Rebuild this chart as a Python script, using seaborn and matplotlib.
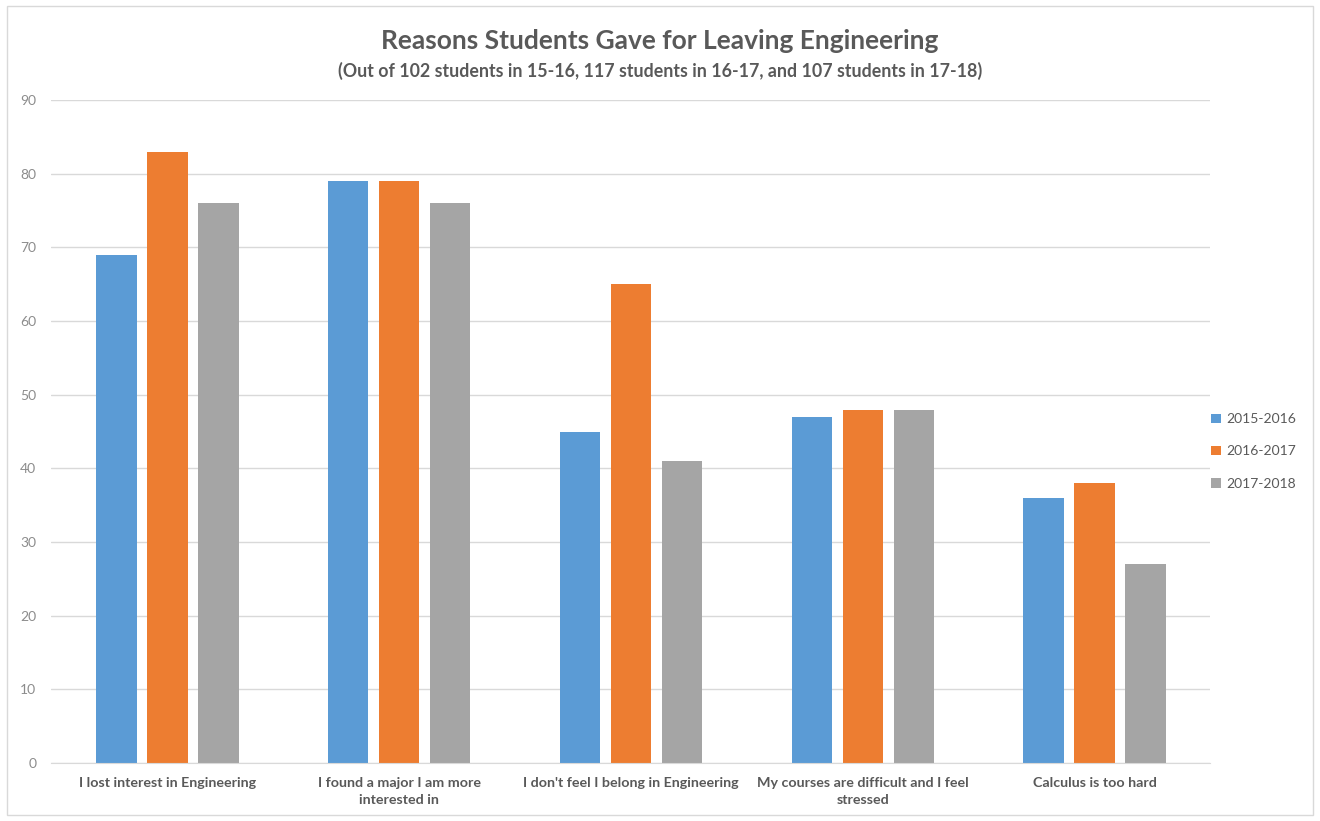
import pandas as pd
import matplotlib.pyplot as plt
import seaborn as sns

# Chart data
reasons = ['I lost interest in Engineering',
           'I found a major I am more\ninterested in',
           "I don't feel I belong in Engineering",
           'My courses are difficult and I feel\nstressed',
           'Calculus is too hard']
years = ['2015-2016', '2016-2017', '2017-2018']
counts_1516 = [69, 79, 45, 47, 36]
counts_1617 = [83, 79, 65, 48, 38]
counts_1718 = [76, 76, 41, 48, 27]
colors = ['#5B9BD5', '#ED7D31', '#A5A5A5']

df = pd.DataFrame({
    'reason': reasons * 3,
    'year': [y for y in years for _ in reasons],
    'count': counts_1516 + counts_1617 + counts_1718,
})

sns.set_style('white')
plt.rcParams['font.family'] = ['Lato', 'DejaVu Sans']
text_gray = '#595959'

fig = plt.figure(figsize=(13.2, 8.21), dpi=100)
ax = fig.add_axes([0.039, 0.0706, 0.878, 0.8074])

sns.barplot(data=df, x='reason', y='count', hue='year', palette=colors,
            width=0.66, gap=0.21, saturation=1, linewidth=0, ax=ax)

ax.set_xlim(-0.5, 4.5)
ax.set_ylim(0, 90)
ax.set_yticks(range(0, 91, 10))
ax.yaxis.grid(True, color='#D9D9D9', linewidth=1)
ax.set_axisbelow(True)
ax.set_xlabel('')
ax.set_ylabel('')
for side in ['top', 'right', 'left']:
    ax.spines[side].set_visible(False)
ax.spines['bottom'].set_color('#D9D9D9')
ax.tick_params(axis='both', length=0)
ax.tick_params(axis='x', pad=10, colors=text_gray, labelsize=10.3)
ax.tick_params(axis='y', pad=11, colors='#8C8C8C', labelsize=10)
for lbl in ax.get_xticklabels():
    lbl.set_fontweight('bold')
    lbl.set_linespacing(1.5)

ax.legend(loc='center left', bbox_to_anchor=(0.99, 0.47), frameon=False,
          fontsize=10, labelcolor=text_gray, handlelength=0.7,
          handleheight=0.7, handletextpad=0.4, labelspacing=1.45)

fig.text(0.5, 0.95, 'Reasons Students Gave for Leaving Engineering',
         ha='center', va='center', fontsize=19, fontweight='bold', color=text_gray)
fig.text(0.5, 0.914, '(Out of 102 students in 15-16, 117 students in 16-17, and 107 students in 17-18)',
         ha='center', va='center', fontsize=12.8, fontweight='bold', color=text_gray)

# light frame around the chart
fig.patches.append(plt.Rectangle((0.005, 0.007), 0.99, 0.986, transform=fig.transFigure,
                                 fill=False, edgecolor='#D9D9D9', linewidth=1))

fig.savefig('out.png', dpi=100)
